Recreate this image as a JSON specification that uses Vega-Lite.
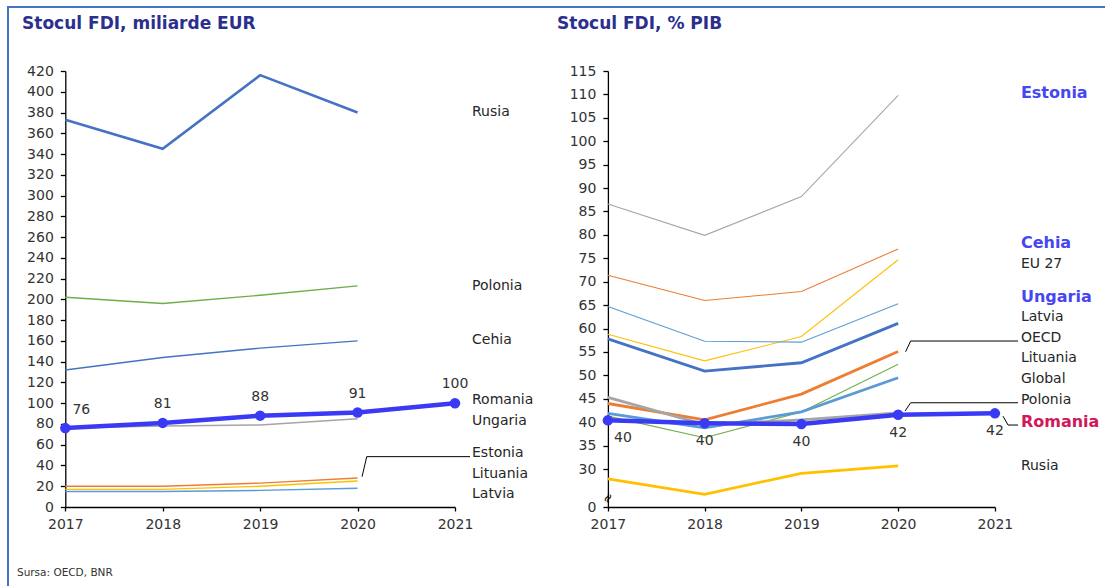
{
  "$schema": "https://vega.github.io/schema/vega-lite/v6.json",
  "width": 1110,
  "height": 600,
  "autosize": {"type": "none"},
  "padding": {"left": 8, "top": 7, "right": 0, "bottom": 0},
  "background": "#ffffff",
  "config": {
    "view": {"stroke": "#4472C4", "strokeWidth": 2},
    "font": "DejaVu Sans",
    "axis": {"grid": false, "domainColor": "#000000", "tickColor": "#000000", "labelColor": "#333333", "labelFontSize": 14, "labelFont": "DejaVu Sans", "domainWidth": 1.3, "tickWidth": 1.3, "labelOverlap": false}
  },
  "datasets": {
    "eur": [
      {"tara": "Rusia", "an": 2017, "val": 373}, {"tara": "Rusia", "an": 2018, "val": 345}, {"tara": "Rusia", "an": 2019, "val": 416}, {"tara": "Rusia", "an": 2020, "val": 380},
      {"tara": "Polonia", "an": 2017, "val": 202}, {"tara": "Polonia", "an": 2018, "val": 196}, {"tara": "Polonia", "an": 2019, "val": 204}, {"tara": "Polonia", "an": 2020, "val": 213},
      {"tara": "Cehia", "an": 2017, "val": 132}, {"tara": "Cehia", "an": 2018, "val": 144}, {"tara": "Cehia", "an": 2019, "val": 153}, {"tara": "Cehia", "an": 2020, "val": 160},
      {"tara": "Ungaria", "an": 2017, "val": 76}, {"tara": "Ungaria", "an": 2018, "val": 78}, {"tara": "Ungaria", "an": 2019, "val": 79}, {"tara": "Ungaria", "an": 2020, "val": 85},
      {"tara": "Estonia", "an": 2017, "val": 20}, {"tara": "Estonia", "an": 2018, "val": 20}, {"tara": "Estonia", "an": 2019, "val": 23}, {"tara": "Estonia", "an": 2020, "val": 28},
      {"tara": "Lituania", "an": 2017, "val": 17}, {"tara": "Lituania", "an": 2018, "val": 17}, {"tara": "Lituania", "an": 2019, "val": 20}, {"tara": "Lituania", "an": 2020, "val": 25},
      {"tara": "Latvia", "an": 2017, "val": 15}, {"tara": "Latvia", "an": 2018, "val": 15}, {"tara": "Latvia", "an": 2019, "val": 16}, {"tara": "Latvia", "an": 2020, "val": 18},
      {"tara": "Romania", "an": 2017, "val": 76}, {"tara": "Romania", "an": 2018, "val": 81}, {"tara": "Romania", "an": 2019, "val": 88}, {"tara": "Romania", "an": 2020, "val": 91}, {"tara": "Romania", "an": 2021, "val": 100}
    ],
    "pib": [
      {"tara": "Estonia", "an": 2017, "val": 86.6}, {"tara": "Estonia", "an": 2018, "val": 79.9}, {"tara": "Estonia", "an": 2019, "val": 88.2}, {"tara": "Estonia", "an": 2020, "val": 109.8},
      {"tara": "Cehia", "an": 2017, "val": 71.4}, {"tara": "Cehia", "an": 2018, "val": 66.0}, {"tara": "Cehia", "an": 2019, "val": 67.9}, {"tara": "Cehia", "an": 2020, "val": 77.0},
      {"tara": "EU 27", "an": 2017, "val": 58.8}, {"tara": "EU 27", "an": 2018, "val": 53.1}, {"tara": "EU 27", "an": 2019, "val": 58.3}, {"tara": "EU 27", "an": 2020, "val": 74.7},
      {"tara": "Ungaria", "an": 2017, "val": 64.7}, {"tara": "Ungaria", "an": 2018, "val": 57.3}, {"tara": "Ungaria", "an": 2019, "val": 57.1}, {"tara": "Ungaria", "an": 2020, "val": 65.3},
      {"tara": "Latvia", "an": 2017, "val": 57.8}, {"tara": "Latvia", "an": 2018, "val": 50.9}, {"tara": "Latvia", "an": 2019, "val": 52.7}, {"tara": "Latvia", "an": 2020, "val": 61.1},
      {"tara": "OECD", "an": 2017, "val": 44.0}, {"tara": "OECD", "an": 2018, "val": 40.5}, {"tara": "OECD", "an": 2019, "val": 46.0}, {"tara": "OECD", "an": 2020, "val": 55.1},
      {"tara": "Lituania", "an": 2017, "val": 41.3}, {"tara": "Lituania", "an": 2018, "val": 36.7}, {"tara": "Lituania", "an": 2019, "val": 42.2}, {"tara": "Lituania", "an": 2020, "val": 52.4},
      {"tara": "Global", "an": 2017, "val": 41.9}, {"tara": "Global", "an": 2018, "val": 38.8}, {"tara": "Global", "an": 2019, "val": 42.2}, {"tara": "Global", "an": 2020, "val": 49.5},
      {"tara": "Polonia", "an": 2017, "val": 45.3}, {"tara": "Polonia", "an": 2018, "val": 39.5}, {"tara": "Polonia", "an": 2019, "val": 40.5}, {"tara": "Polonia", "an": 2020, "val": 42.0},
      {"tara": "Rusia", "an": 2017, "val": 27.9}, {"tara": "Rusia", "an": 2018, "val": 24.6}, {"tara": "Rusia", "an": 2019, "val": 29.1}, {"tara": "Rusia", "an": 2020, "val": 30.7},
      {"tara": "Romania", "an": 2017, "val": 40.4}, {"tara": "Romania", "an": 2018, "val": 39.8}, {"tara": "Romania", "an": 2019, "val": 39.6}, {"tara": "Romania", "an": 2020, "val": 41.6}, {"tara": "Romania", "an": 2021, "val": 41.9}
    ],
    "eurLabels": [
      {"nume": "Rusia", "pos": 380.5}, {"nume": "Polonia", "pos": 213.2}, {"nume": "Cehia", "pos": 160.6}, {"nume": "Romania", "pos": 102.6},
      {"nume": "Ungaria", "pos": 83.1}, {"nume": "Estonia", "pos": 52.1}, {"nume": "Lituania", "pos": 31.8}, {"nume": "Latvia", "pos": 12.5}
    ],
    "pibLabels": [
      {"nume": "Estonia", "pos": 110.4, "tip": "bold"}, {"nume": "Cehia", "pos": 78.3, "tip": "bold"}, {"nume": "EU 27", "pos": 73.8, "tip": "normal"},
      {"nume": "Ungaria", "pos": 66.8, "tip": "bold"}, {"nume": "Latvia", "pos": 62.5, "tip": "normal"}, {"nume": "OECD", "pos": 57.9, "tip": "normal"},
      {"nume": "Lituania", "pos": 53.8, "tip": "normal"}, {"nume": "Global", "pos": 49.2, "tip": "normal"}, {"nume": "Polonia", "pos": 44.7, "tip": "normal"},
      {"nume": "Romania", "pos": 40.1, "tip": "accent"}, {"nume": "Rusia", "pos": 30.7, "tip": "normal"}
    ]
  },
  "layer": [
    {
      "layer": [
        {
          "data": {"name": "eur"},
          "transform": [{"filter": "datum.tara != 'Romania' && datum.tara != 'Rusia'"}],
          "mark": {"type": "line", "strokeWidth": 1.4},
          "encoding": {
            "x": {"field": "an", "type": "quantitative", "scale": {"domain": [2017, 2021], "range": [57.3, 447], "nice": false, "zero": false},
                  "axis": {"title": null, "orient": "bottom", "offset": -100, "values": [2017, 2018, 2019, 2020, 2021], "tickCount": 10, "format": "d", "tickSize": 4, "labelPadding": 6, "labelFlush": false, "labelOverlap": false}},
            "y": {"field": "val", "type": "quantitative", "scale": {"domain": [0, 420], "range": [500, 64], "nice": false, "zero": false},
                  "axis": {"title": null, "orient": "left", "offset": -57.3, "values": [0, 20, 40, 60, 80, 100, 120, 140, 160, 180, 200, 220, 240, 260, 280, 300, 320, 340, 360, 380, 400, 420], "tickCount": 40, "tickSize": 5, "labelPadding": 7, "labelOverlap": false}},
            "color": {"field": "tara", "type": "nominal", "legend": null,
                      "scale": {"domain": ["Rusia", "Polonia", "Cehia", "Ungaria", "Estonia", "Lituania", "Latvia"], "range": ["#4472C4", "#70AD47", "#4472C4", "#A5A5A5", "#ED7D31", "#FFC000", "#5B9BD5"]}}
          }
        },
        {
          "data": {"name": "eur"},
          "transform": [{"filter": "datum.tara == 'Rusia'"}],
          "mark": {"type": "line", "strokeWidth": 2.6},
          "encoding": {"x": {"field": "an", "type": "quantitative"}, "y": {"field": "val", "type": "quantitative"}, "color": {"field": "tara", "type": "nominal", "legend": null}}
        },
        {
          "data": {"name": "eur"},
          "transform": [{"filter": "datum.tara == 'Romania'"}],
          "mark": {"type": "line", "color": "#3a3af5", "strokeWidth": 4.5, "point": {"filled": true, "size": 110, "color": "#3a3af5"}},
          "encoding": {"x": {"field": "an", "type": "quantitative"}, "y": {"field": "val", "type": "quantitative"}}
        },
        {
          "data": {"name": "eur"},
          "transform": [{"filter": "datum.tara == 'Romania' && datum.an == 2017"}],
          "mark": {"type": "text", "fontSize": 14, "color": "#333333", "dx": 16, "dy": -18, "baseline": "middle", "align": "center"},
          "encoding": {"x": {"field": "an", "type": "quantitative"}, "y": {"field": "val", "type": "quantitative"}, "text": {"field": "val", "type": "quantitative", "format": ".0f"}}
        },
        {
          "data": {"name": "eur"},
          "transform": [{"filter": "datum.tara == 'Romania' && datum.an > 2017"}],
          "mark": {"type": "text", "fontSize": 14, "color": "#333333", "dy": -19, "baseline": "middle", "align": "center"},
          "encoding": {"x": {"field": "an", "type": "quantitative"}, "y": {"field": "val", "type": "quantitative"}, "text": {"field": "val", "type": "quantitative", "format": ".0f"}}
        },
        {
          "data": {"name": "eurLabels"},
          "mark": {"type": "text", "fontSize": 14, "color": "#262626", "dx": 17, "align": "left", "baseline": "middle"},
          "encoding": {"x": {"datum": 2021, "type": "quantitative"}, "y": {"field": "pos", "type": "quantitative"}, "text": {"field": "nume"}}
        },
        {
          "data": {"values": [{}]},
          "mark": {"type": "rule", "color": "#000000", "strokeWidth": 1},
          "encoding": {"x": {"datum": 2020.094, "type": "quantitative"}, "x2": {"datum": 2021.154}, "y": {"datum": 48.5, "type": "quantitative"}, "y2": {"datum": 48.5}}
        },
        {
          "data": {"values": [{}]},
          "mark": {"type": "rule", "color": "#000000", "strokeWidth": 1},
          "encoding": {"x": {"datum": 2020.094, "type": "quantitative"}, "x2": {"datum": 2020.046}, "y": {"datum": 48.5, "type": "quantitative"}, "y2": {"datum": 29.2}}
        },
        {
          "data": {"values": [{}]},
          "mark": {"type": "text", "text": "Stocul FDI, miliarde EUR", "fontSize": 17, "fontWeight": "bold", "color": "#2b2f8e", "align": "left", "baseline": "middle"},
          "encoding": {"x": {"datum": 2016.556, "type": "quantitative"}, "y": {"datum": 465.3, "type": "quantitative"}}
        },
        {
          "data": {"values": [{}]},
          "mark": {"type": "text", "text": "Sursa:    OECD, BNR", "fontSize": 10.5, "color": "#333333", "align": "left", "baseline": "middle"},
          "encoding": {"x": {"datum": 2016.504, "type": "quantitative"}, "y": {"datum": -63.6, "type": "quantitative"}}
        }
      ]
    },
    {
      "layer": [
        {
          "data": {"name": "pib"},
          "transform": [{"filter": "indexof(['Estonia','Cehia','EU 27','Ungaria','Lituania'], datum.tara) >= 0"}],
          "mark": {"type": "line", "strokeWidth": 1.1},
          "encoding": {
            "x": {"field": "an", "type": "quantitative", "scale": {"domain": [2017, 2021], "range": [599.9, 986.9], "nice": false, "zero": false},
                  "axis": {"title": null, "orient": "bottom", "offset": -100, "values": [2017, 2018, 2019, 2020, 2021], "tickCount": 10, "format": "d", "tickSize": 4, "labelPadding": 6, "labelFlush": false, "labelOverlap": false}},
            "y": {"field": "val", "type": "quantitative", "scale": {"domain": [21.9, 115], "range": [500, 64], "nice": false, "zero": false},
                  "axis": {"title": null, "orient": "left", "offset": -599.9, "values": [21.9, 30, 35, 40, 45, 50, 55, 60, 65, 70, 75, 80, 85, 90, 95, 100, 105, 110, 115], "tickCount": 40, "labelExpr": "datum.value < 25 ? '0' : datum.label", "tickSize": 5, "labelPadding": 7, "labelOverlap": false}},
            "color": {"field": "tara", "type": "nominal", "legend": null,
                      "scale": {"domain": ["Estonia", "Cehia", "EU 27", "Ungaria", "Latvia", "OECD", "Lituania", "Global", "Polonia", "Rusia"], "range": ["#A5A5A5", "#ED7D31", "#FFC000", "#5B9BD5", "#4472C4", "#ED7D31", "#70AD47", "#5B9BD5", "#A5A5A5", "#FFC000"]}}
          }
        },
        {
          "data": {"name": "pib"},
          "transform": [{"filter": "indexof(['Latvia','OECD','Global','Polonia','Rusia'], datum.tara) >= 0"}],
          "mark": {"type": "line", "strokeWidth": 2.8},
          "encoding": {"x": {"field": "an", "type": "quantitative"}, "y": {"field": "val", "type": "quantitative"}, "color": {"field": "tara", "type": "nominal", "legend": null}}
        },
        {
          "data": {"name": "pib"},
          "transform": [{"filter": "datum.tara == 'Romania'"}],
          "mark": {"type": "line", "color": "#3a3af5", "strokeWidth": 4.5, "point": {"filled": true, "size": 110, "color": "#3a3af5"}},
          "encoding": {"x": {"field": "an", "type": "quantitative"}, "y": {"field": "val", "type": "quantitative"}}
        },
        {
          "data": {"name": "pib"},
          "transform": [{"filter": "datum.tara == 'Romania' && datum.an == 2017"}],
          "mark": {"type": "text", "fontSize": 14, "color": "#333333", "dx": 15, "dy": 18, "baseline": "middle", "align": "center"},
          "encoding": {"x": {"field": "an", "type": "quantitative"}, "y": {"field": "val", "type": "quantitative"}, "text": {"field": "val", "type": "quantitative", "format": ".0f"}}
        },
        {
          "data": {"name": "pib"},
          "transform": [{"filter": "datum.tara == 'Romania' && datum.an > 2017"}],
          "mark": {"type": "text", "fontSize": 14, "color": "#333333", "dy": 18, "baseline": "middle", "align": "center"},
          "encoding": {"x": {"field": "an", "type": "quantitative"}, "y": {"field": "val", "type": "quantitative"}, "text": {"field": "val", "type": "quantitative", "format": ".0f"}}
        },
        {
          "data": {"name": "pibLabels"},
          "transform": [{"filter": "datum.tip == 'normal'"}],
          "mark": {"type": "text", "fontSize": 14, "color": "#262626", "dx": 26, "align": "left", "baseline": "middle"},
          "encoding": {"x": {"datum": 2021, "type": "quantitative"}, "y": {"field": "pos", "type": "quantitative"}, "text": {"field": "nume"}}
        },
        {
          "data": {"name": "pibLabels"},
          "transform": [{"filter": "datum.tip == 'bold'"}],
          "mark": {"type": "text", "fontSize": 16, "fontWeight": "bold", "color": "#4646f2", "dx": 26, "align": "left", "baseline": "middle"},
          "encoding": {"x": {"datum": 2021, "type": "quantitative"}, "y": {"field": "pos", "type": "quantitative"}, "text": {"field": "nume"}}
        },
        {
          "data": {"name": "pibLabels"},
          "transform": [{"filter": "datum.tip == 'accent'"}],
          "mark": {"type": "text", "fontSize": 16, "fontWeight": "bold", "color": "#d0185a", "dx": 26, "align": "left", "baseline": "middle"},
          "encoding": {"x": {"datum": 2021, "type": "quantitative"}, "y": {"field": "pos", "type": "quantitative"}, "text": {"field": "nume"}}
        },
        {
          "data": {"values": [{}]},
          "mark": {"type": "rule", "color": "#000000", "strokeWidth": 1},
          "encoding": {"x": {"datum": 2020.129, "type": "quantitative"}, "x2": {"datum": 2021.239}, "y": {"datum": 57.34, "type": "quantitative"}, "y2": {"datum": 57.34}}
        },
        {
          "data": {"values": [{}]},
          "mark": {"type": "rule", "color": "#000000", "strokeWidth": 1},
          "encoding": {"x": {"datum": 2020.129, "type": "quantitative"}, "x2": {"datum": 2020.077}, "y": {"datum": 57.34, "type": "quantitative"}, "y2": {"datum": 55.05}}
        },
        {
          "data": {"values": [{}]},
          "mark": {"type": "rule", "color": "#000000", "strokeWidth": 1},
          "encoding": {"x": {"datum": 2020.129, "type": "quantitative"}, "x2": {"datum": 2021.239}, "y": {"datum": 44.16, "type": "quantitative"}, "y2": {"datum": 44.16}}
        },
        {
          "data": {"values": [{}]},
          "mark": {"type": "rule", "color": "#000000", "strokeWidth": 1},
          "encoding": {"x": {"datum": 2020.129, "type": "quantitative"}, "x2": {"datum": 2020.071}, "y": {"datum": 44.16, "type": "quantitative"}, "y2": {"datum": 42.39}}
        },
        {
          "data": {"values": [{}]},
          "mark": {"type": "rule", "color": "#000000", "strokeWidth": 1},
          "encoding": {"x": {"datum": 2021.136, "type": "quantitative"}, "x2": {"datum": 2021.239}, "y": {"datum": 39.4, "type": "quantitative"}, "y2": {"datum": 39.4}}
        },
        {
          "data": {"values": [{}]},
          "mark": {"type": "rule", "color": "#000000", "strokeWidth": 1},
          "encoding": {"x": {"datum": 2021.136, "type": "quantitative"}, "x2": {"datum": 2021.084}, "y": {"datum": 39.4, "type": "quantitative"}, "y2": {"datum": 41.3}}
        },
        {
          "data": {"values": [{}]},
          "mark": {"type": "text", "text": "≈", "fontSize": 13, "color": "#000000", "align": "center", "baseline": "middle", "angle": -60},
          "encoding": {"x": {"datum": 2017, "type": "quantitative"}, "y": {"datum": 23.8, "type": "quantitative"}}
        },
        {
          "data": {"values": [{}]},
          "mark": {"type": "text", "text": "Stocul FDI, % PIB", "fontSize": 17, "fontWeight": "bold", "color": "#2b2f8e", "align": "left", "baseline": "middle"},
          "encoding": {"x": {"datum": 2016.474, "type": "quantitative"}, "y": {"datum": 125.05, "type": "quantitative"}}
        }
      ]
    }
  ],
  "resolve": {
    "scale": {"x": "independent", "y": "independent", "color": "independent"},
    "axis": {"x": "independent", "y": "independent"}
  }
}
